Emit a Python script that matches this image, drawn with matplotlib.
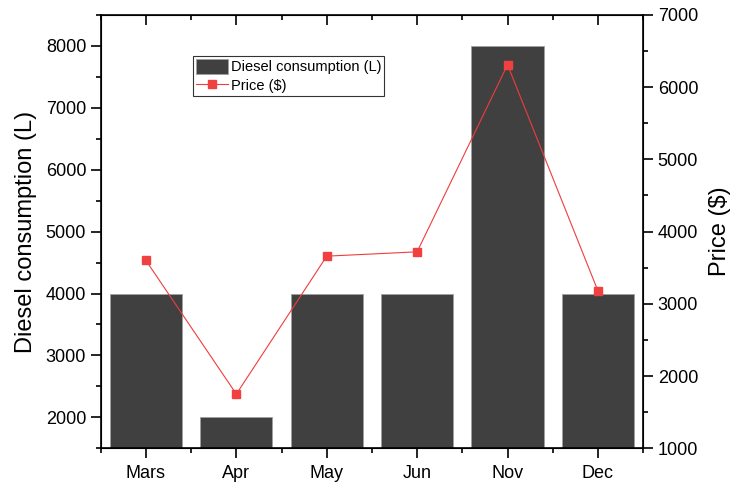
import matplotlib
matplotlib.use('Agg')
from matplotlib import pyplot as plt
from matplotlib.ticker import MultipleLocator

plt.rcParams['font.family'] = ['Liberation Sans', 'DejaVu Sans']

months = ['Mars', 'Apr', 'May', 'Jun', 'Nov', 'Dec']
diesel = [4000, 2000, 4000, 4000, 8000, 4000]
price = [3600, 1750, 3660, 3720, 6310, 3180]

fig, ax = plt.subplots(figsize=(7.3, 4.82), dpi=100)
fig.subplots_adjust(left=0.138, right=0.881, top=0.969, bottom=0.07)

x = range(len(months))
bars = ax.bar(x, diesel, width=0.8, color='#404040', edgecolor='#a0a0a0',
              linewidth=0.6, label='Diesel consumption (L)')
ax.set_xlim(-0.5, 5.5)
ax.set_ylim(1500, 8500)
ax.set_xticks(list(x))
ax.set_xticklabels(months, fontsize=13)
ax.xaxis.set_minor_locator(MultipleLocator(1, offset=0.5))
ax.yaxis.set_major_locator(MultipleLocator(1000))
ax.yaxis.set_minor_locator(MultipleLocator(500))
ax.set_ylabel('Diesel consumption (L)', fontsize=17, labelpad=6)
ax.tick_params(axis='y', which='major', labelsize=13, length=7, width=1.2)
ax.tick_params(axis='y', which='minor', length=3.5, width=1.2)
ax.tick_params(axis='x', which='major', length=7, width=1.2, top=True, pad=5)
ax.tick_params(axis='x', which='minor', length=3.5, width=1.2, top=True)
ax.tick_params(axis='x', which='both', direction='out')
for s in ax.spines.values():
    s.set_linewidth(1.2)

ax2 = ax.twinx()
line, = ax2.plot(list(x), price, color='#f03c3c', linewidth=0.8, marker='s',
                 markersize=5.5, markerfacecolor='#f04040', markeredgecolor='#f04040',
                 label='Price ($)')
ax2.set_ylim(1000, 7000)
ax2.yaxis.set_major_locator(MultipleLocator(1000))
ax2.yaxis.set_minor_locator(MultipleLocator(500))
ax2.set_ylabel('Price ($)', fontsize=17, labelpad=8)
ax2.tick_params(axis='y', which='major', labelsize=13, length=7, width=1.2)
ax2.tick_params(axis='y', which='minor', length=3.5, width=1.2)

# top ticks point inward on the original
for t in ax.xaxis.get_major_ticks() + ax.xaxis.get_minor_ticks():
    t.tick2line.set_marker(3)

leg = ax.legend([bars, line], ['Diesel consumption (L)', 'Price ($)'],
                loc='upper left', bbox_to_anchor=(0.17, 0.905), fontsize=10.5,
                frameon=True, fancybox=False, edgecolor='black',
                borderpad=0.2, labelspacing=0.2, handlelength=2.2,
                handleheight=1.2, handletextpad=0.2, borderaxespad=0)
leg.get_frame().set_linewidth(0.8)

fig.savefig('out.png', dpi=100)
